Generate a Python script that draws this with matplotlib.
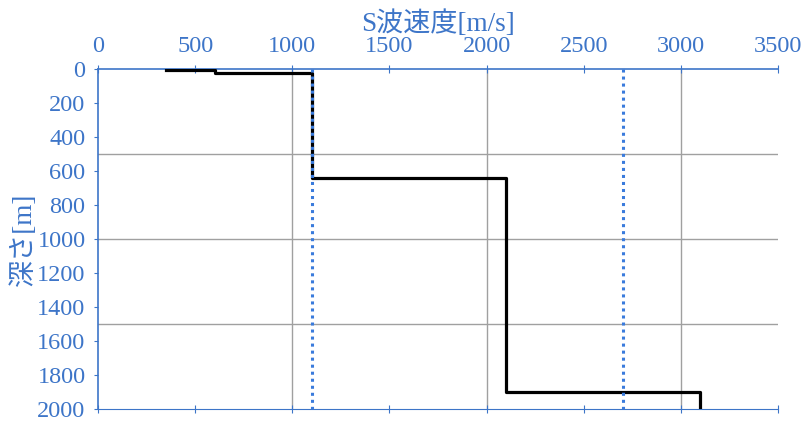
import matplotlib
matplotlib.use("Agg")
import matplotlib.pyplot as plt

# S-wave velocity profile (step model)
velocity = [350, 600, 600, 1100, 1100, 2100, 2100, 3100, 3100]
depth = [5, 5, 25, 25, 640, 640, 1900, 1900, 2000]

# reference velocities (dotted lines)
ref_velocity = [1100, 2700]

x_ticks = [0, 500, 1000, 1500, 2000, 2500, 3000, 3500]
y_ticks = [0, 200, 400, 600, 800, 1000, 1200, 1400, 1600, 1800, 2000]

blue = "#3d75c8"
fonts = ["Liberation Serif", "Noto Sans CJK JP"]
plt.rcParams["font.family"] = fonts

fig = plt.figure(figsize=(8.1, 4.26), dpi=100)
ax = fig.add_axes([0.121, 0.040, 0.8395, 0.798])

ax.set_xlim(0, 3500)
ax.set_ylim(2000, 0)

for gx in [1000, 2000, 3000]:
    ax.axvline(gx, color="#a0a0a0", lw=1, zorder=1)
for gy in [500, 1000, 1500]:
    ax.axhline(gy, color="#a0a0a0", lw=1, zorder=1)

ax.plot(velocity, depth, color="black", lw=2.3, zorder=3)
for v in ref_velocity:
    ax.plot([v, v], [0, 2000], color="#3a7bdc", lw=2.2, ls=(0, (1, 1.3)), zorder=4)

ax.xaxis.set_ticks_position("both")
ax.xaxis.set_label_position("top")
ax.tick_params(axis="x", which="both", top=True, bottom=True, labeltop=True,
               labelbottom=False, direction="inout", length=6, color=blue,
               labelcolor=blue, labelsize=17.5, pad=6)
ax.tick_params(axis="y", direction="out", length=3, color=blue,
               labelcolor=blue, labelsize=17.5, pad=6)
ax.set_xticks(x_ticks)
ax.set_yticks(y_ticks)

ax.set_xlabel("S波速度[m/s]", color=blue, fontsize=19.5, labelpad=3)
ax.set_ylabel("深さ[m]", color=blue, fontsize=19.5, labelpad=0)

ax.spines["right"].set_visible(False)
for s in ["top", "left", "bottom"]:
    ax.spines[s].set_color(blue)
ax.spines["top"].set_linewidth(1.2)
ax.spines["left"].set_linewidth(1.2)
ax.spines["bottom"].set_linewidth(0.8)

fig.savefig("out.png", dpi=100)
